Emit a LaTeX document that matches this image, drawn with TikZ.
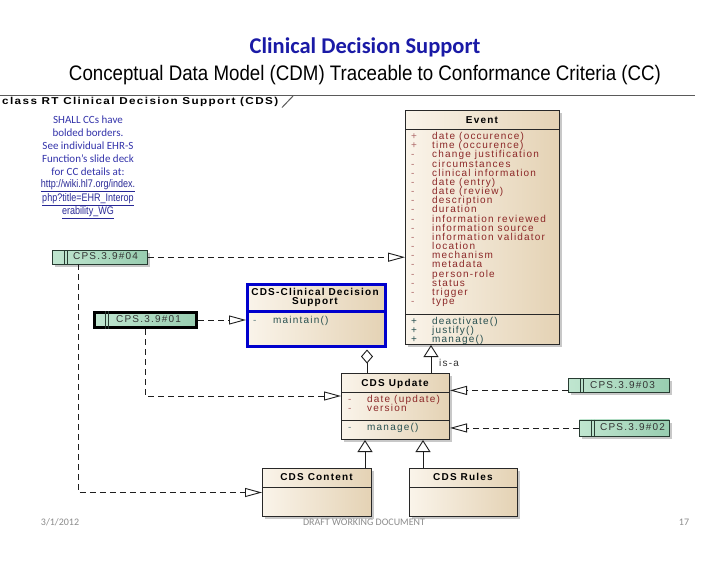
\documentclass[tikz,border=0pt]{standalone}
\usepackage{fontspec}
\usetikzlibrary{arrows.meta,calc}
\newfontfamily\calib{Carlito}
\newfontfamily\arialf{Liberation Sans}
\newfontfamily\umlf[LetterSpace=12]{Liberation Sans}
\definecolor{titleblue}{RGB}{26,26,166}
\definecolor{noteblue}{RGB}{51,51,170}
\definecolor{urlblue}{RGB}{40,40,150}
\definecolor{beigeL}{RGB}{250,244,234}
\definecolor{beigeR}{RGB}{228,210,180}
\definecolor{boxline}{RGB}{40,40,40}
\definecolor{boxblue}{RGB}{0,0,204}
\definecolor{attrc}{RGB}{140,40,40}
\definecolor{opc}{RGB}{40,80,80}
\definecolor{cpsL}{RGB}{192,230,208}
\definecolor{cpsR}{RGB}{152,205,176}
\definecolor{cpsdark}{RGB}{40,60,50}
\definecolor{framec}{RGB}{90,90,90}
\definecolor{footc}{RGB}{140,140,140}
\definecolor{shadowc}{RGB}{200,200,200}
\definecolor{linec}{RGB}{30,30,30}
\tikzset{
  classbox/.style={draw=boxline, line width=1pt, left color=beigeL, right color=beigeR, anchor=north west, inner sep=0pt},
  cpsstyle/.style={draw=cpsdark, line width=0.9pt, left color=cpsL, right color=cpsR, anchor=north west, inner sep=0pt},
  cpsdiv/.style={draw=cpsdark, line width=0.9pt},
  txt/.style={anchor=west, inner sep=0pt, text height=7.5pt, text depth=2.2pt, font=\umlf\fontsize{10}{10}\selectfont},
  ctxt/.style={txt, anchor=center},
  hdr/.style={ctxt, font=\umlf\bfseries\fontsize{10}{10}\selectfont, text=black},
  sepline/.style={draw=boxline, line width=1pt},
  notetxt/.style={inner sep=0pt, text=noteblue, font=\calib\fontsize{11}{11}\selectfont},
  urltxt/.style={inner sep=0pt, text=urlblue, font=\arialf\fontsize{11}{11}\selectfont},
  foot/.style={inner sep=0pt, text=footc, font=\calib\fontsize{10}{10}\selectfont},
  realize/.style={draw=linec, line width=0.9pt, dash pattern=on 6pt off 4pt, -{Triangle[length=17pt,width=9pt,fill=white,line width=0.9pt]}},
  genz/.style={draw=linec, line width=0.9pt, -{Triangle[length=12pt,width=15pt,fill=white,line width=0.9pt]}},
  aggr/.style={draw=linec, line width=0.9pt, {Diamond[length=14pt,width=12pt,fill=white,line width=0.9pt]}-},
}
\newcommand\ubox[6][]{%
  \fill[shadowc] (#3+3,#4+3) rectangle ++(#5,#6);
  \node[classbox,#1,minimum width=#5pt,minimum height=#6pt] (#2) at (#3,#4) {};
}
\newcommand\cpsbox[8][]{%
  \fill[shadowc] (#3+3,#4+3) rectangle ++(#5,#6);
  \node[cpsstyle,#1,minimum width=#5pt,minimum height=#6pt] (#2) at (#3,#4) {};
  \draw[cpsdiv] ($(#2.north west)+(12,0)$) -- ($(#2.south west)+(12,0)$);
  \draw[cpsdiv] ($(#2.north west)+(15,0)$) -- ($(#2.south west)+(15,0)$);
  \node[txt, text=black!80] (#2t) at ($(#2.west)+(#7,0)$) {#8};
}
\begin{document}
\begin{tikzpicture}[x=1pt,y=-1pt]
\useasboundingbox (0,0) rectangle (728,563);
\fill[white] (0,0) rectangle (728,563);

% titles
\node[inner sep=0pt, text=titleblue, font=\calib\bfseries\fontsize{22.5}{24}\selectfont] (title) at (365,47) {Clinical Decision Support};
\node[inner sep=0pt, font=\arialf\fontsize{21}{22}\selectfont] (subtitle) at (365,75) {\resizebox{592pt}{\height}{Conceptual Data Model (CDM) Traceable to Conformance Criteria (CC)}};

% frame
\draw[framec, line width=1.6pt] (0,95.5) -- (695,95.5);
\draw[framec, line width=1pt] (282,107.5) -- (293,96);
\node[txt, font=\umlf\bfseries\fontsize{10}{10}\selectfont] (frametab) at (2,101.5) {\resizebox{276pt}{\height}{class RT Clinical Decision Support (CDS)}};

% note
\node[notetxt] (n1) at (88,120) {SHALL CCs have};
\node[notetxt] (n2) at (88,133) {bolded borders.};
\node[notetxt] (n3) at (88,146) {See individual EHR-S};
\node[notetxt] (n4) at (88,159) {Function’s slide deck};
\node[notetxt] (n5) at (88,172) {for CC details at:};
\node[urltxt] (n6) at (88,186) {\scalebox{0.82}[1]{\underline{http://wiki.hl7.org/index.}}};
\node[urltxt] (n7) at (88,200) {\scalebox{0.82}[1]{\underline{php?title=EHR\_Interop}}};
\node[urltxt] (n8) at (88,213) {\scalebox{0.82}[1]{\underline{erability\_WG}}};

% Event class
\ubox{event}{405}{110}{154}{234}
\draw[sepline] ($(event.north west)+(0,19)$) -- ($(event.north east)+(0,19)$);
\draw[sepline] ($(event.north west)+(0,204)$) -- ($(event.north east)+(0,204)$);
\node[hdr] (eventh) at (482,120.5) {Event};
\foreach \m/\t [count=\i from 0] in {+/date (occurence),+/time (occurence),-/change justification,-/circumstances,-/clinical information,-/date (entry),-/date (review),-/description,-/duration,-/information reviewed,-/information source,-/information validator,-/location,-/mechanism,-/metadata,-/person-role,-/status,-/trigger,-/type}{
  \node[txt, text=attrc!70] (evm\i) at (411,137+\i*9.167) {\m};
  \node[txt, text=attrc] (eva\i) at (432,137+\i*9.167) {\t};
}
\foreach \t [count=\i from 0] in {deactivate(),justify(),manage()}{
  \node[txt, text=opc] (evpm\i) at (411,322+\i*9) {+};
  \node[txt, text=opc] (evo\i) at (432,322+\i*9) {\t};
}

% CDS-Clinical Decision Support
\ubox[draw=boxblue, line width=3pt]{cdscds}{246}{283}{138}{62}
\draw[boxblue, line width=3pt] ($(cdscds.north west)+(0,28)$) -- ($(cdscds.north east)+(0,28)$);
\node[hdr] (cdsh1) at (315,293) {CDS-Clinical Decision};
\node[hdr] (cdsh2) at (315,302) {Support};
\node[txt, text=opc!70] (cdsm) at (253,321) {-};
\node[txt, text=opc] (cdso) at (273,321) {maintain()};

% CDS Update
\ubox{cdsupdate}{341}{373}{108}{66}
\draw[sepline] ($(cdsupdate.north west)+(0,19)$) -- ($(cdsupdate.north east)+(0,19)$);
\draw[sepline] ($(cdsupdate.north west)+(0,47)$) -- ($(cdsupdate.north east)+(0,47)$);
\node[hdr] (cuh) at (395,383.5) {CDS Update};
\node[txt, text=attrc!70] (cum1) at (348,399.5) {-};
\node[txt, text=attrc] (cua1) at (367,399.5) {date (update)};
\node[txt, text=attrc!70] (cum2) at (348,408.5) {-};
\node[txt, text=attrc] (cua2) at (367,408.5) {version};
\node[txt, text=opc!70] (cum3) at (348,427.5) {-};
\node[txt, text=opc] (cuo1) at (367,427.5) {manage()};

% CDS Content / Rules
\ubox{cdscontent}{262}{468}{109}{48}
\draw[sepline] ($(cdscontent.north west)+(0,19)$) -- ($(cdscontent.north east)+(0,19)$);
\node[hdr] (cch) at (316.5,477.5) {CDS Content};
\ubox{cdsrules}{409}{468}{108}{48}
\draw[sepline] ($(cdsrules.north west)+(0,19)$) -- ($(cdsrules.north east)+(0,19)$);
\node[hdr] (crh) at (463,477.5) {CDS Rules};

% CPS boxes
\cpsbox{cps04}{52}{250}{95}{13.5}{21}{CPS.3.9\#04}
\cpsbox[draw=black, line width=3pt]{cps01}{93}{311}{102}{15}{23}{CPS.3.9\#01}
\cpsbox{cps03}{568}{378}{101}{14}{22}{CPS.3.9\#03}
\cpsbox{cps02}{579}{419.5}{90}{16}{21}{CPS.3.9\#02}

% connectors
\draw[realize] (cps04.east) -- (cps04.east -| event.west);
\coordinate (c04) at ($(cps04.south west)+(26,0)$);
\draw[realize] (c04) |- (cdscontent.west);
\draw[realize] (cps01.east) -- (cps01.east -| cdscds.west);
\coordinate (c01) at ($(cps01.south west)+(52,0)$);
\coordinate (c01u) at ($(cdsupdate.north west)+(0,23)$);
\draw[realize] (c01) |- (c01u);
\coordinate (c03) at ($(cps03.south west)+(0,-2.5)$);
\draw[realize] (c03) -- (c03 -| cdsupdate.east);
\draw[realize] (cps02.west) -- (cps02.west -| cdsupdate.east);

\coordinate (g1) at ($(cdsupdate.north west)+(90,0)$);
\draw[genz] (g1) -- (g1 |- event.south);
\node[txt, text=black!80] (isa) at (439,364) {is-a};
\coordinate (ag) at ($(cdscds.south west)+(121,0)$);
\draw[aggr, shorten <=1.5pt] (ag) -- (ag |- cdsupdate.north);
\coordinate (g2) at ($(cdscontent.north west)+(103,0)$);
\draw[genz] (g2) -- (g2 |- cdsupdate.south);
\coordinate (g3) at ($(cdsrules.north west)+(14,0)$);
\draw[genz] (g3) -- (g3 |- cdsupdate.south);

% footer
\node[foot] (f1) at (60,522) {3/1/2012};
\node[foot] (f2) at (364,522) {DRAFT WORKING DOCUMENT};
\node[foot] (f3) at (684,522) {17};
\end{tikzpicture}
\end{document}
